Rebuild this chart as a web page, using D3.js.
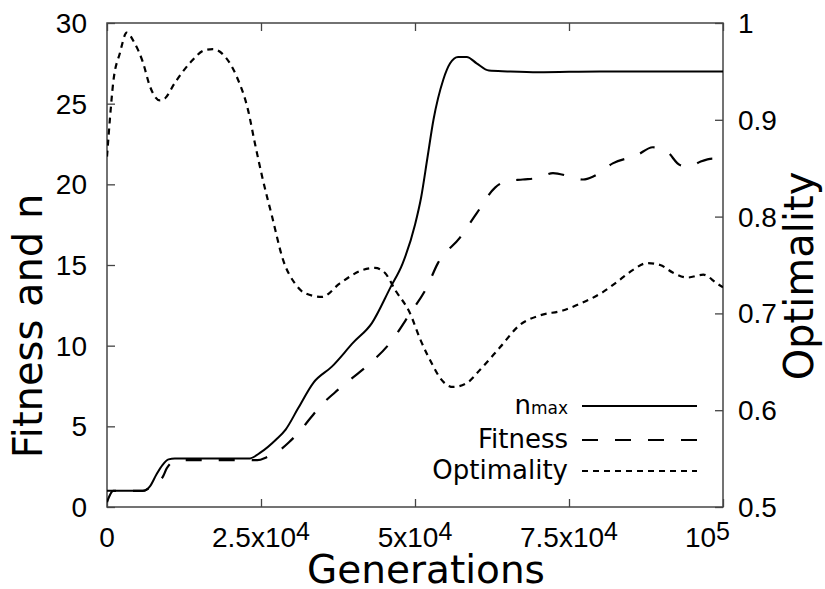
<!DOCTYPE html>
<html>
<head>
<meta charset="utf-8">
<script src="https://cdn.jsdelivr.net/npm/d3@7"></script>
<style>
  body { margin: 0; background: #fff; }
  text { font-family: "DejaVu Sans", sans-serif; fill: #000; }
  .tl { font-family: "Liberation Sans", Arial, sans-serif; }
</style>
</head>
<body>
<script>
// data
var genN = [0, 2000, 5800, 7000, 8000, 9000, 10000, 11000, 15000, 20000, 23000, 25000, 27500, 29000, 31000, 33500, 36500, 40000, 43000, 46000, 48000, 50000, 51000, 52000, 53000, 54600, 55700, 57000, 58400, 60000, 62000, 65000, 70000, 80000, 90000, 100000];
var nMax = [1, 1, 1, 1.3, 2.0, 2.6, 2.95, 3.0, 3.0, 3.0, 3.0, 3.4, 4.2, 4.8, 6.1, 7.7, 8.7, 10.2, 11.4, 13.6, 15.1, 17.5, 19.2, 21.6, 24.0, 26.5, 27.5, 27.9, 27.9, 27.5, 27.05, 27.0, 26.95, 27.0, 27.0, 27.0];

var genFit = [0, 1000, 3000, 5800, 7000, 8000, 9100, 9700, 10500, 12000, 18000, 24400, 26000, 27600, 29500, 31300, 33000, 35000, 37000, 39500, 42700, 46000, 49200, 51900, 53700, 57300, 60000, 63000, 64900, 67500, 70000, 72400, 75000, 77300, 79000, 82100, 86000, 88600, 91000, 93000, 94600, 96300, 98400, 100000];
var fitness = [0.3, 1.0, 1.0, 1.0, 1.2, 1.5, 1.9, 2.4, 2.75, 2.9, 2.9, 2.9, 3.1, 3.4, 4.0, 4.7, 5.5, 6.4, 7.1, 7.9, 8.9, 10.2, 12.0, 13.6, 15.1, 16.7, 18.2, 19.8, 20.2, 20.3, 20.4, 20.7, 20.5, 20.3, 20.5, 21.3, 21.8, 22.3, 22.0, 21.2, 21.1, 21.4, 21.6, 21.2];

var genOpt = [0, 500, 1000, 2100, 3200, 4500, 5800, 7000, 8600, 9400, 11000, 13500, 15900, 17200, 19200, 21100, 22900, 24000, 25200, 26800, 28600, 30500, 32100, 34900, 37800, 41600, 43500, 45100, 46800, 49200, 50800, 53000, 54000, 56200, 58400, 60600, 63800, 67000, 70300, 74000, 76800, 80500, 83300, 85400, 87700, 89800, 91900, 94200, 96800, 99000, 100000];
var optimality = [0.862, 0.903, 0.938, 0.969, 0.99, 0.979, 0.96, 0.934, 0.92, 0.922, 0.938, 0.959, 0.972, 0.973, 0.965, 0.944, 0.91, 0.876, 0.841, 0.80, 0.755, 0.731, 0.721, 0.717, 0.731, 0.745, 0.747, 0.742, 0.724, 0.70, 0.674, 0.645, 0.634, 0.624, 0.628, 0.642, 0.665, 0.688, 0.698, 0.703, 0.71, 0.722, 0.735, 0.745, 0.752, 0.75, 0.742, 0.737, 0.74, 0.731, 0.727];

var xTicks = [0, 25000, 50000, 75000, 100000];
var xTickBase = ["0", "2.5x10", "5x10", "7.5x10", "10"];
var xTickExp = ["", "4", "4", "4", "5"];
var yTicks = [0, 5, 10, 15, 20, 25, 30];
var y2Ticks = [0.5, 0.6, 0.7, 0.8, 0.9, 1];

var legendNames = ["n", "Fitness", "Optimality"];
//////////////////////////////

var W = 825, H = 589;
var pL = 107, pR = 723, pT = 23, pB = 507; // plot box

var svg = d3.select("body").append("svg")
    .attr("width", W)
    .attr("height", H);

var x = d3.scaleLinear().domain([0, 100000]).range([pL, pR]);
var y = d3.scaleLinear().domain([0, 30]).range([pB, pT]);
var y2 = d3.scaleLinear().domain([0.5, 1]).range([pB, pT]);

svg.append("clipPath").attr("id", "clip")
    .append("rect")
    .attr("x", pL).attr("y", pT)
    .attr("width", pR - pL).attr("height", pB - pT);

// ticks (inward)
function tickStyle(g) {
    g.select(".domain").remove();
    g.selectAll(".tick line").attr("stroke", "#444").attr("stroke-width", 1.3);
    g.selectAll(".tick text").remove();
}
svg.append("g").attr("transform", "translate(0," + pB + ")")
    .call(d3.axisBottom(x).tickValues(xTicks).tickSize(-8)).call(tickStyle);
svg.append("g").attr("transform", "translate(0," + pT + ")")
    .call(d3.axisTop(x).tickValues(xTicks).tickSize(-8)).call(tickStyle);
svg.append("g").attr("transform", "translate(" + pL + ",0)")
    .call(d3.axisLeft(y).tickValues(yTicks).tickSize(-8)).call(tickStyle);
svg.append("g").attr("transform", "translate(" + pR + ",0)")
    .call(d3.axisRight(y2).tickValues(y2Ticks).tickSize(-8)).call(tickStyle);

// frame
svg.append("rect")
    .attr("x", pL).attr("y", pT)
    .attr("width", pR - pL).attr("height", pB - pT)
    .attr("fill", "none")
    .attr("stroke", "#444")
    .attr("stroke-width", 1.5);

// tick labels
svg.selectAll(".ylab").data(yTicks).enter().append("text")
    .attr("class", "tl")
    .attr("x", pL - 20)
    .attr("y", function(d) { return y(d); })
    .attr("dy", "0.36em")
    .attr("text-anchor", "end")
    .attr("font-size", 28)
    .text(function(d) { return d; });

svg.selectAll(".y2lab").data(y2Ticks).enter().append("text")
    .attr("class", "tl")
    .attr("x", pR + 15)
    .attr("y", function(d) { return y2(d); })
    .attr("dy", "0.36em")
    .attr("text-anchor", "start")
    .attr("font-size", 28)
    .text(function(d) { return d; });

xTicks.forEach(function(d, i) {
    var last = i == xTicks.length - 1;
    var t = svg.append("text")
        .attr("class", "tl")
        .attr("x", last ? x(d) + 7 : x(d))
        .attr("y", 547)
        .attr("text-anchor", last ? "end" : "middle")
        .attr("font-size", 28);
    t.append("tspan").text(xTickBase[i]);
    if (xTickExp[i] != "") {
        t.append("tspan").attr("font-size", 25).attr("dy", -7).text(xTickExp[i]);
    }
});

// axis titles
svg.append("text")
    .attr("transform", "translate(42,326) rotate(-90)")
    .attr("text-anchor", "middle")
    .attr("font-size", 40)
    .text("Fitness and n");

svg.append("text")
    .attr("transform", "translate(813,276) rotate(-90)")
    .attr("text-anchor", "middle")
    .attr("font-size", 40)
    .text("Optimality");

svg.append("text")
    .attr("x", (pL + pR) / 2 + 11)
    .attr("y", 583)
    .attr("text-anchor", "middle")
    .attr("font-size", 39)
    .text("Generations");

// curves
var plot = svg.append("g").attr("clip-path", "url(#clip)");

var lineN = d3.line()
    .x(function(d, i) { return x(genN[i]); })
    .y(function(d) { return y(d); })
    .curve(d3.curveMonotoneX);
var lineF = d3.line()
    .x(function(d, i) { return x(genFit[i]); })
    .y(function(d) { return y(d); })
    .curve(d3.curveMonotoneX);
var lineO = d3.line()
    .x(function(d, i) { return x(genOpt[i]); })
    .y(function(d) { return y2(d); })
    .curve(d3.curveMonotoneX);

var dashes = [null, "16,17", "6,5"];

plot.append("path").datum(optimality)
    .attr("d", lineO)
    .attr("fill", "none").attr("stroke", "#000").attr("stroke-width", 2.2)
    .attr("stroke-dasharray", dashes[2]);
plot.append("path").datum(fitness)
    .attr("d", lineF)
    .attr("fill", "none").attr("stroke", "#000").attr("stroke-width", 2.2)
    .attr("stroke-dasharray", dashes[1]);
plot.append("path").datum(nMax)
    .attr("d", lineN)
    .attr("fill", "none").attr("stroke", "#000").attr("stroke-width", 2);

// legend
var legY = [406, 440, 471];
legendNames.forEach(function(name, i) {
    var t = svg.append("text")
        .attr("x", 568)
        .attr("y", legY[i] + 8)
        .attr("text-anchor", "end")
        .attr("font-size", 26);
    t.append("tspan").text(name);
    if (i == 0) t.append("tspan").attr("font-size", 17).text("max");
    svg.append("line")
        .attr("x1", 582).attr("x2", 697)
        .attr("y1", legY[i]).attr("y2", legY[i])
        .attr("stroke", "#000").attr("stroke-width", 2)
        .attr("stroke-dasharray", dashes[i]);
});
</script>
</body>
</html>
